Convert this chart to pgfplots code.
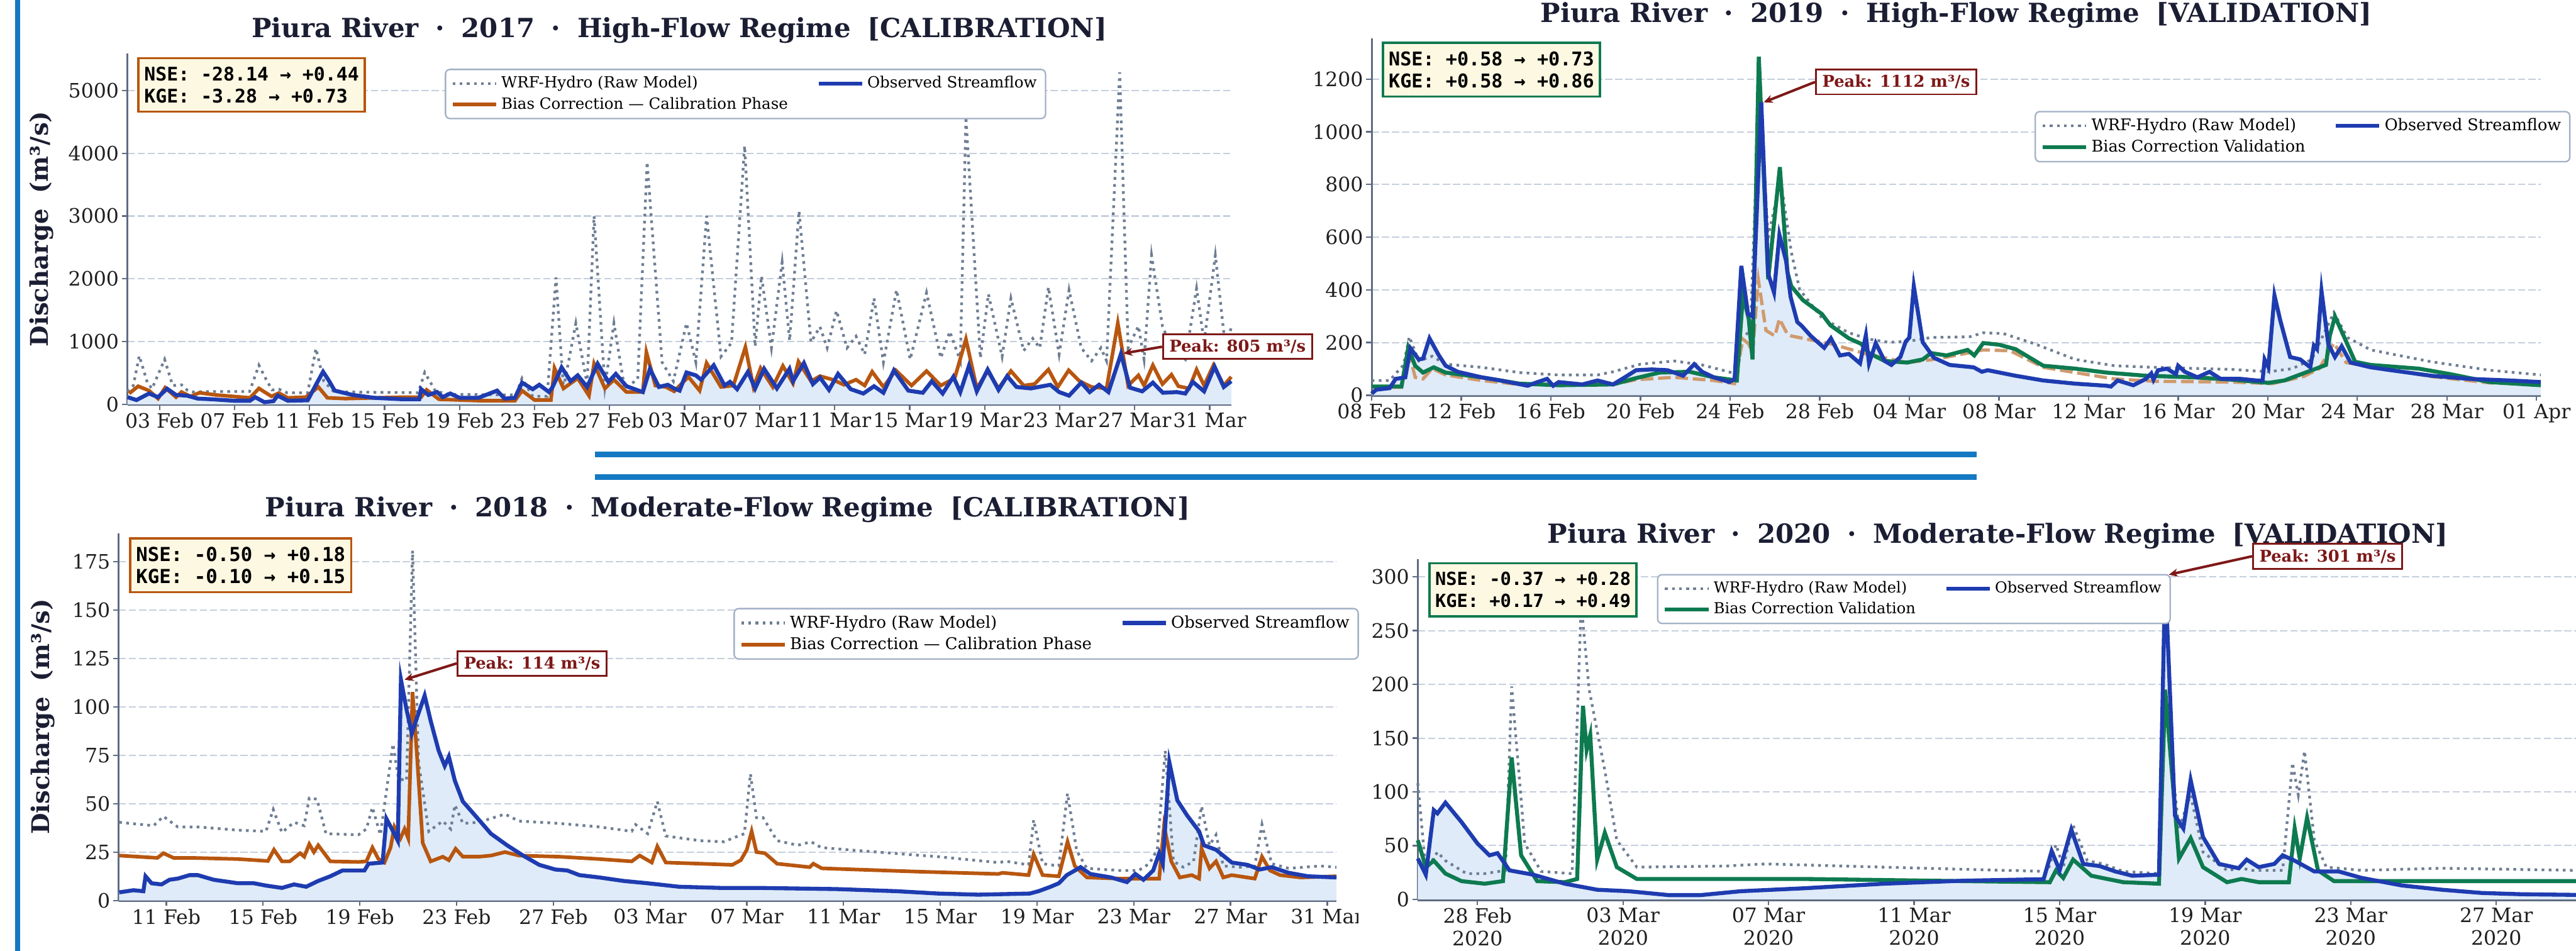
\documentclass[border=0pt]{standalone}
\usepackage{fontspec}
\setmainfont{DejaVu Serif}
\newfontfamily\monofont{DejaVu Sans Mono}
\usepackage{pgfplots}
\pgfplotsset{compat=1.18}
\usetikzlibrary{arrows.meta}
\definecolor{obsc}{HTML}{1E3CB0}
\definecolor{biasc}{HTML}{B8560F}
\definecolor{valc}{HTML}{0E7A50}
\definecolor{rawc}{HTML}{6E7E94}
\definecolor{tanc}{HTML}{D09A6E}
\definecolor{fillc}{HTML}{DFEBF8}
\definecolor{gridc}{HTML}{C6CFDC}
\definecolor{spinec}{HTML}{5E6C82}
\definecolor{boxfill}{HTML}{FDF8E2}
\definecolor{peakc}{HTML}{7E1818}
\definecolor{titlec}{HTML}{1B1E33}
\definecolor{barc}{HTML}{1479C2}
\definecolor{legbord}{HTML}{A3B1C6}
\newcommand{\dsp}{\hspace{0.636em}}
\newcommand{\tsep}{\dsp·\dsp}
\newcommand{\nsefont}[1]{\monofont\bfseries\fontsize{#1}{12.1}\selectfont}
\tikzset{
  rawstyle/.style={rawc, line width=1.5bp, dash pattern=on 1.5bp off 2.4bp},
  obsstyle/.style={obsc, line width=2.2bp},
  biasstyle/.style={biasc, line width=2bp},
  valstyle/.style={valc, line width=2.2bp},
  tanstyle/.style={tanc, line width=1.8bp, dash pattern=on 7bp off 2.6bp},
  nsebox/.style={draw=#1, fill=boxfill, line width=1.3bp, inner xsep=3.2bp, inner ysep=4.8bp, align=left, anchor=north west},
  peakbox/.style={draw=peakc, fill=white, line width=1bp, text=peakc, font=\bfseries\fontsize{9}{10}\selectfont, inner xsep=3.5bp, inner ysep=3bp, anchor=west},
  peakarrow/.style={draw=peakc, line width=1.4bp, -{Stealth[length=5bp,width=4.5bp]}},
}
\pgfplotsset{
  panel/.style={
    scale only axis, clip=false,
    axis x line*=bottom, axis y line*=left,
    x axis line style={-, draw=spinec, line width=1.8bp},
    y axis line style={-, draw=spinec, line width=1bp},
    tick align=outside, major tick length=3bp,
    major tick style={draw=spinec, line width=0.8bp},
    ymin=0, ymajorgrids,
    major grid style={draw=gridc, line width=0.7bp, dash pattern=on 4bp off 1.6bp},
    ticklabel style={font=\fontsize{11}{12.5}\selectfont, text=black!88},
    yticklabel style={inner sep=1.5bp},
    xticklabel style={inner sep=1.5bp},
    /pgf/number format/assume math mode=true,
    /pgf/number format/1000 sep={},
    scaled y ticks=false,
    title style={at={(0.5,1)}, anchor=base, yshift=2.9bp, font=\bfseries\fontsize{14.6}{16}\selectfont, text=titlec},
    ylabel style={anchor=center, font=\bfseries\fontsize{13.5}{15}\selectfont, text=titlec},
    legend columns=2, legend cell align=left,
    legend image code/.code={\draw[##1] (0bp,0bp) -- (24bp,0bp);},
    legend style={anchor=north west, draw=legbord, line width=0.8bp, rounded corners=2.5bp, fill=white, inner xsep=3bp, inner ysep=2bp, /tikz/every even column/.append style={column sep=14bp}, nodes={inner sep=1.8bp}},
  }
}
\begin{document}
\begin{tikzpicture}
\path[use as bounding box] (0,0) rectangle (1422bp,524.88bp);
\clip (0,0) rectangle (1422bp,524.88bp);
\fill[barc] (8.4bp,0) rectangle (11.28bp,524.88bp);
\fill[barc] (328.32bp,272.48bp) rectangle (1091.04bp,275.44bp);
\fill[barc] (328.32bp,260.05bp) rectangle (1091.04bp,263.01bp);

% ---------------- Panel 1: 2017 ----------------
\begin{axis}[panel, at={(70.32bp,301.68bp)}, anchor=south west,
  width=609.36bp, height=193.68bp,
  xmin=0.285, xmax=59.15, ymax=5590,
  ytick={0,1000,...,5000},
  xtick={2,6,...,58},
  xticklabels={03 Feb,07 Feb,11 Feb,15 Feb,19 Feb,23 Feb,27 Feb,03 Mar,07 Mar,11 Mar,15 Mar,19 Mar,23 Mar,27 Mar,31 Mar},
  title={Piura River\tsep 2017\tsep High-Flow Regime\dsp[CALIBRATION]},
  ylabel={Discharge\dsp(m³/s)},
  ylabel style={at={(axis description cs:-0.0776,0.5)}},
  legend style={at={(0.2875,0.9566)}, font=\fontsize{8.55}{10.5}\selectfont},
]
\addlegendimage{rawstyle}\addlegendentry{WRF-Hydro (Raw Model)}
\addlegendimage{obsstyle}\addlegendentry{Observed Streamflow}
\addlegendimage{biasstyle}\addlegendentry{Bias Correction — Calibration Phase}
\addplot[fill=fillc, draw=none, forget plot] coordinates {
(0.29,115)(0.77,69)(1.44,173)(1.92,115)(2.4,249)(2.88,150)(3.46,139)(4.04,92)(4.8,81)(5.96,58)(6.82,58)(7.1,115)(7.59,35)(8.07,51)(8.3,139)(8.84,58)(9.9,65)(10.4,346)(10.72,520)(11.0,393)(11.34,219)(12.3,150)(13.45,104)(15,81)(15.85,81)(15.95,242)(16.33,150)(16.8,196)(17.1,115)(17.5,173)(18,104)(19,104)(20,219)(20.4,92)(20.95,104)(21.33,346)(21.9,242)(22.25,312)(22.77,196)(22.96,277)(23.44,589)(23.92,369)(24.3,462)(24.8,277)(25.36,647)(25.94,358)(26.33,485)(26.9,289)(27.77,196)(28.15,566)(28.63,277)(29.1,312)(29.44,254)(29.73,219)(30.1,508)(30.6,462)(30.88,393)(31.55,623)(32.13,300)(32.42,358)(32.8,242)(33.38,520)(33.76,254)(34.24,566)(34.92,254)(35.59,566)(35.78,369)(36.36,658)(36.84,323)(37.22,427)(37.7,231)(38.18,485)(38.86,242)(39.53,173)(40.1,289)(40.6,185)(41.16,543)(41.93,219)(42.7,185)(43.18,369)(43.76,173)(44.33,439)(44.7,196)(45.16,612)(45.58,208)(46.16,554)(46.74,231)(47.2,450)(47.7,277)(48.46,254)(49.5,312)(49.97,196)(50.5,139)(51.15,346)(51.6,196)(52.1,312)(52.6,196)(53.27,805)(53.75,266)(54.4,208)(54.97,346)(55.5,185)(56.25,196)(56.7,173)(57.1,358)(57.7,208)(58.26,600)(58.75,277)(59.15,369)
} \closedcycle;
\addplot[rawstyle, forget plot] coordinates {
(0.29,200)(0.6,300)(0.92,773)(1.35,346)(1.6,250)(2.27,716)(2.7,300)(3.17,312)(3.5,220)(3.84,196)(4.5,205)(6.8,205)(7.3,623)(7.69,393)(8.0,230)(8.36,242)(8.8,185)(9.9,185)(10.34,889)(10.76,369)(11.3,200)(15.8,185)(16.14,508)(16.72,208)(17.5,160)(21.0,150)(21.33,416)(21.9,127)(22.67,127)(23.14,2021)(23.54,254)(24.2,1293)(24.8,323)(25.17,3001)(25.75,277)(26.23,1293)(26.8,254)(27.5,400)(28.0,3861)(28.8,670)(29.4,369)(30.1,1293)(30.6,670)(31.17,3001)(31.94,762)(32.5,981)(33.2,4117)(33.76,924)(34.1,2043)(34.63,900)(35.2,2264)(35.6,1016)(36.1,3080)(36.74,993)(37.22,1235)(37.6,900)(38.1,1492)(38.66,900)(39.14,1085)(39.6,797)(40.1,1690)(40.6,670)(41.3,1823)(42.03,716)(42.9,1778)(43.66,739)(44.14,1161)(44.7,693)(45.0,4581)(45.77,739)(46.2,1756)(46.93,762)(47.4,1690)(48.08,854)(48.56,1050)(48.94,900)(49.4,1867)(49.97,797)(50.5,1823)(51.15,900)(51.7,693)(52.2,900)(52.5,693)(53.2,5287)(53.65,900)(54.2,1247)(54.5,716)(54.9,2374)(55.48,1247)(55.96,900)(56.7,716)(57.3,1845)(57.7,993)(58.3,2374)(58.84,900)(59.15,1227)
};
\addplot[biasstyle, forget plot] coordinates {
(0.38,173)(0.86,289)(1.44,219)(1.92,92)(2.3,266)(2.88,115)(3.17,196)(3.65,127)(4.13,185)(5.0,150)(6.82,104)(7.3,254)(7.97,127)(8.36,180)(8.84,104)(9.8,115)(10.47,277)(10.95,104)(11.9,92)(15,115)(15.95,115)(16.24,231)(16.9,81)(19.2,58)(20.95,58)(21.33,219)(22.0,69)(22.87,69)(23.06,577)(23.54,254)(24.3,416)(24.9,139)(25.17,647)(25.75,254)(26.23,393)(26.9,196)(27.77,196)(27.96,831)(28.44,300)(29.0,277)(29.44,208)(30.2,439)(30.8,219)(31.17,658)(31.94,277)(32.6,300)(33.24,912)(33.67,277)(34.05,577)(34.7,277)(35.24,612)(35.78,335)(36.07,681)(36.74,369)(37.22,450)(37.9,393)(38.5,312)(39.14,393)(39.6,300)(40.0,520)(40.6,277)(41.26,543)(42.1,300)(42.9,531)(43.66,300)(44.4,416)(45.0,1039)(45.58,254)(46.16,531)(46.74,254)(47.4,531)(48.08,300)(48.66,323)(49.4,554)(49.9,277)(50.48,543)(51.06,369)(51.7,277)(52.5,254)(53.1,1293)(53.65,300)(54.2,462)(54.5,300)(54.97,623)(55.48,323)(55.96,473)(56.33,289)(56.9,254)(57.3,554)(57.7,300)(58.2,623)(58.75,300)(59.15,439)
};
\addplot[obsstyle, forget plot] coordinates {
(0.29,115)(0.77,69)(1.44,173)(1.92,115)(2.4,249)(2.88,150)(3.46,139)(4.04,92)(4.8,81)(5.96,58)(6.82,58)(7.1,115)(7.59,35)(8.07,51)(8.3,139)(8.84,58)(9.9,65)(10.4,346)(10.72,520)(11.0,393)(11.34,219)(12.3,150)(13.45,104)(15,81)(15.85,81)(15.95,242)(16.33,150)(16.8,196)(17.1,115)(17.5,173)(18,104)(19,104)(20,219)(20.4,92)(20.95,104)(21.33,346)(21.9,242)(22.25,312)(22.77,196)(22.96,277)(23.44,589)(23.92,369)(24.3,462)(24.8,277)(25.36,647)(25.94,358)(26.33,485)(26.9,289)(27.77,196)(28.15,566)(28.63,277)(29.1,312)(29.44,254)(29.73,219)(30.1,508)(30.6,462)(30.88,393)(31.55,623)(32.13,300)(32.42,358)(32.8,242)(33.38,520)(33.76,254)(34.24,566)(34.92,254)(35.59,566)(35.78,369)(36.36,658)(36.84,323)(37.22,427)(37.7,231)(38.18,485)(38.86,242)(39.53,173)(40.1,289)(40.6,185)(41.16,543)(41.93,219)(42.7,185)(43.18,369)(43.76,173)(44.33,439)(44.7,196)(45.16,612)(45.58,208)(46.16,554)(46.74,231)(47.2,450)(47.7,277)(48.46,254)(49.5,312)(49.97,196)(50.5,139)(51.15,346)(51.6,196)(52.1,312)(52.6,196)(53.27,805)(53.75,266)(54.4,208)(54.97,346)(55.5,185)(56.25,196)(56.7,173)(57.1,358)(57.7,208)(58.26,600)(58.75,277)(59.15,369)
};
\node[nsebox=biasc, font=\nsefont{10.4}] at (axis description cs:0.009,0.99) {NSE: -28.14 → +0.44\\KGE: -3.28 → +0.73};
\node[peakbox] (pk1) at (axis cs:55.46,918) {Peak: 805 m³/s};
\draw[peakarrow] (pk1.west) -- (axis cs:53.4,812);
\end{axis}

% ---------------- Panel 2: 2019 ----------------
\begin{axis}[panel, at={(757.2bp,306.72bp)}, anchor=south west,
  width=645.36bp, height=197.04bp,
  xmin=0, xmax=52.19, ymax=1355,
  ytick={0,200,...,1200},
  xtick={0,4,...,52},
  xticklabels={08 Feb,12 Feb,16 Feb,20 Feb,24 Feb,28 Feb,04 Mar,08 Mar,12 Mar,16 Mar,20 Mar,24 Mar,28 Mar,01 Apr},
  title={Piura River\tsep 2019\tsep High-Flow Regime\dsp[VALIDATION]},
  legend style={at={(0.567,0.7966)}, font=\fontsize{8.9}{10.5}\selectfont},
]
\addlegendimage{rawstyle}\addlegendentry{WRF-Hydro (Raw Model)}
\addlegendimage{obsstyle}\addlegendentry{Observed Streamflow}
\addlegendimage{valstyle}\addlegendentry{Bias Correction Validation}
\addplot[fill=fillc, draw=none, forget plot] coordinates {
(0,6)(0.2,21)(0.8,27)(1.07,62)(1.5,68)(1.73,178)(2.1,136)(2.29,139)(2.58,216)(2.98,154)(3.3,112)(3.84,89)(4.9,68)(5.75,56)(6.96,36)(7.4,50)(7.83,62)(8.1,36)(8.35,50)(9.4,41)(10.08,56)(10.77,41)(11.3,68)(11.8,95)(12.5,98)(13.2,95)(13.9,74)(14.4,118)(14.75,89)(15.27,68)(15.97,50)(16.2,62)(16.5,491)(16.8,308)(17.0,299)(17.39,1112)(17.7,461)(17.96,390)(18.2,609)(18.5,509)(18.7,373)(19.0,278)(19.2,263)(19.6,225)(20.2,180)(20.5,216)(20.9,151)(21.3,157)(21.8,121)(22.06,228)(22.2,121)(22.5,198)(22.9,130)(23.2,115)(23.6,145)(23.84,204)(24.0,219)(24.2,414)(24.6,201)(25.1,142)(25.8,115)(26.87,106)(27.24,89)(27.5,95)(28.74,74)(29.98,56)(31.4,44)(32.8,36)(33.0,33)(33.3,56)(34.0,38)(34.56,62)(34.8,83)(34.9,59)(35.1,95)(35.5,101)(35.9,80)(36.0,112)(36.3,89)(36.86,68)(37.4,89)(37.9,62)(38.8,62)(39.5,56)(39.77,56)(39.86,136)(40.03,106)(40.3,379)(40.56,284)(41.0,145)(41.45,136)(41.9,106)(42.06,189)(42.2,175)(42.4,396)(42.7,195)(43.0,145)(43.3,186)(43.7,124)(44.6,106)(45.5,95)(47.3,74)(49.0,62)(50.8,56)(52.19,50)
} \closedcycle;
\addplot[rawstyle, forget plot] coordinates {
(0,56)(0.8,56)(1.42,115)(1.68,222)(2.1,130)(2.7,148)(3.3,118)(4.9,106)(6.6,86)(8.35,77)(10.08,77)(10.77,89)(12.0,118)(13.5,130)(14.75,115)(15.8,92)(16.3,80)(16.57,213)(16.9,250)(17.3,1150)(17.7,600)(18.25,820)(18.73,544)(19.1,402)(20.1,293)(21.3,237)(22.2,213)(23.07,201)(23.9,204)(24.97,219)(26.7,222)(27.3,237)(28.2,234)(29.6,195)(31.4,136)(33.15,112)(34.9,106)(38.4,98)(40.03,89)(41.1,101)(41.97,136)(42.95,314)(43.56,219)(44.6,172)(47.3,127)(49.9,95)(52.19,77)
};
\addplot[tanstyle, forget plot] coordinates {
(0,30)(1.33,30)(1.63,175)(1.94,68)(2.29,62)(2.7,101)(3.3,77)(4.9,56)(6.6,41)(10.77,41)(11.8,59)(13.5,68)(15.27,56)(16.2,44)(16.57,213)(16.83,195)(17.0,160)(17.26,438)(17.6,246)(18.0,225)(18.2,290)(18.56,231)(18.73,225)(19.6,210)(20.5,195)(22.2,154)(23.9,124)(25.0,135)(26.0,150)(27.3,172)(28.5,169)(29.98,106)(31.4,86)(33.15,62)(34.9,53)(38.4,50)(40.2,44)(41.6,71)(42.3,101)(42.95,198)(43.5,124)(44.6,109)(47.3,71)(49.9,47)(52.19,41)
};
\addplot[valstyle, forget plot] coordinates {
(0,33)(1.33,33)(1.63,180)(1.94,112)(2.29,86)(2.77,106)(3.3,86)(4.9,68)(6.6,44)(8.35,38)(10.77,41)(11.8,65)(12.85,86)(14.2,89)(15.27,68)(16.3,56)(16.57,379)(16.83,290)(17.0,136)(17.28,1285)(17.7,440)(18.22,866)(18.56,467)(18.73,414)(19.25,361)(20.1,308)(20.47,266)(21.3,216)(21.85,195)(22.2,160)(22.9,130)(23.9,124)(24.6,136)(24.97,160)(25.66,151)(26.6,172)(26.9,151)(27.3,198)(28.0,192)(28.74,175)(29.98,112)(31.4,101)(32.8,86)(34.56,74)(36.7,68)(38.4,59)(40.03,47)(40.74,56)(41.97,95)(42.6,115)(42.77,225)(43.0,299)(43.5,204)(43.9,127)(44.6,115)(46.74,101)(48.15,80)(49.9,50)(52.19,38)
};
\addplot[obsstyle, forget plot] coordinates {
(0,6)(0.2,21)(0.8,27)(1.07,62)(1.5,68)(1.73,178)(2.1,136)(2.29,139)(2.58,216)(2.98,154)(3.3,112)(3.84,89)(4.9,68)(5.75,56)(6.96,36)(7.4,50)(7.83,62)(8.1,36)(8.35,50)(9.4,41)(10.08,56)(10.77,41)(11.3,68)(11.8,95)(12.5,98)(13.2,95)(13.9,74)(14.4,118)(14.75,89)(15.27,68)(15.97,50)(16.2,62)(16.5,491)(16.8,308)(17.0,299)(17.39,1112)(17.7,461)(17.96,390)(18.2,609)(18.5,509)(18.7,373)(19.0,278)(19.2,263)(19.6,225)(20.2,180)(20.5,216)(20.9,151)(21.3,157)(21.8,121)(22.06,228)(22.2,121)(22.5,198)(22.9,130)(23.2,115)(23.6,145)(23.84,204)(24.0,219)(24.2,414)(24.6,201)(25.1,142)(25.8,115)(26.87,106)(27.24,89)(27.5,95)(28.74,74)(29.98,56)(31.4,44)(32.8,36)(33.0,33)(33.3,56)(34.0,38)(34.56,62)(34.8,83)(34.9,59)(35.1,95)(35.5,101)(35.9,80)(36.0,112)(36.3,89)(36.86,68)(37.4,89)(37.9,62)(38.8,62)(39.5,56)(39.77,56)(39.86,136)(40.03,106)(40.3,379)(40.56,284)(41.0,145)(41.45,136)(41.9,106)(42.06,189)(42.2,175)(42.4,396)(42.7,195)(43.0,145)(43.3,186)(43.7,124)(44.6,106)(45.5,95)(47.3,74)(49.0,62)(50.8,56)(52.19,50)
};
\node[nsebox=valc, font=\nsefont{10.5}] at (axis description cs:0.0086,0.99) {NSE: +0.58 → +0.73\\KGE: +0.58 → +0.86};
\node[peakbox] (pk2) at (axis cs:19.79,1189) {Peak: 1112 m³/s};
\draw[peakarrow] (pk2.west) -- (axis cs:17.5,1112);
\end{axis}

% ---------------- Panel 3: 2018 ----------------
\begin{axis}[panel, at={(65.52bp,27.84bp)}, anchor=south west,
  width=672.24bp, height=202.8bp,
  xmin=0.03, xmax=50.38, ymax=189.7,
  ytick={0,25,...,175},
  xtick={2,6,...,50},
  xticklabels={11 Feb,15 Feb,19 Feb,23 Feb,27 Feb,03 Mar,07 Mar,11 Mar,15 Mar,19 Mar,23 Mar,27 Mar,31 Mar},
  title={Piura River\tsep 2018\tsep Moderate-Flow Regime\dsp[CALIBRATION]},
  ylabel={Discharge\dsp(m³/s)},
  ylabel style={at={(axis description cs:-0.0621,0.5)}},
  legend style={at={(0.5048,0.7964)}, font=\fontsize{9}{11}\selectfont},
]
\addlegendimage{rawstyle}\addlegendentry{WRF-Hydro (Raw Model)}
\addlegendimage{obsstyle}\addlegendentry{Observed Streamflow}
\addlegendimage{biasstyle}\addlegendentry{Bias Correction — Calibration Phase}
\addplot[fill=fillc, draw=none, forget plot] coordinates {
(0.05,4.2)(0.64,5.3)(1.05,4.8)(1.14,12.5)(1.39,8.9)(1.8,8.3)(2.13,10.7)(2.47,11.3)(2.96,13.1)(3.3,13.1)(3.96,10.7)(4.96,8.9)(5.62,8.9)(6.12,7.7)(6.78,6.5)(7.28,8.3)(7.78,7.1)(8.28,10.1)(8.78,12.5)(9.28,15.5)(10.19,15.5)(10.36,19.0)(10.94,19.6)(11.1,42.2)(11.35,36.3)(11.57,30.9)(11.7,114)(11.93,98.7)(12.15,86.2)(12.35,93.9)(12.68,105.8)(12.93,92.7)(13.26,77.3)(13.51,69.5)(13.68,74.3)(13.93,61.8)(14.26,51.1)(14.76,44.0)(15.42,34.5)(16.09,28.5)(16.75,23.2)(17.42,18.4)(18.08,16.0)(18.58,15.5)(19.08,13.1)(19.9,11.9)(20.9,10.1)(21.9,8.9)(23.2,7.1)(24.9,6.5)(26.4,6.5)(29.7,5.9)(32.2,4.8)(33.9,3.6)(35.57,3.0)(37.7,3.6)(38.06,4.8)(38.56,7.1)(38.9,8.9)(39.23,13.1)(39.8,17.2)(40.2,13.7)(41.06,11.9)(41.72,9.5)(42.06,13.7)(42.4,10.7)(42.8,15.5)(43.05,24.4)(43.2,19.0)(43.47,71.3)(43.8,51.7)(44.2,44.0)(44.7,35.7)(44.9,28.5)(45.4,26.2)(46.05,19.6)(46.7,18.4)(47.2,16.0)(47.7,17.2)(48.4,14.3)(49.2,12.5)(50.38,11.9)
} \closedcycle;
\addplot[rawstyle, forget plot] coordinates {
(0.05,40.4)(1.47,38.6)(1.88,43.4)(2.47,38.0)(3.3,38.0)(4.96,36.3)(6.12,35.7)(6.42,47.0)(6.78,35.1)(7.28,40.4)(7.7,38.6)(7.91,52.9)(8.23,52.3)(8.6,34.5)(9.94,33.9)(10.27,36.9)(10.52,48.1)(10.85,33.9)(11.37,80.8)(11.6,63.0)(11.93,61.8)(12.18,180.7)(12.43,71.3)(12.85,35.7)(13.43,41.0)(13.76,36.9)(13.93,49.3)(14.26,39.8)(14.92,40.4)(16.0,44.6)(16.58,41.0)(18.25,39.8)(19.9,38.0)(21.24,35.7)(21.4,39.2)(21.9,34.5)(22.3,51.1)(22.65,33.3)(24.06,30.9)(25.06,30.3)(25.4,32.1)(25.9,34.5)(26.15,65.4)(26.4,42.8)(26.67,42.8)(27.25,30.9)(28.1,28.5)(28.66,30.3)(29.08,27.3)(31.4,25.0)(33.9,22.6)(36.4,19.6)(36.73,20.2)(37.65,18.4)(37.86,41.6)(38.23,19.0)(38.9,17.8)(39.26,55.3)(39.64,25.6)(40.06,16.6)(41.4,15.5)(42.2,15.5)(42.64,19.0)(42.97,26.2)(43.3,77.3)(43.64,20.2)(44.05,17.2)(44.47,20.2)(44.8,48.7)(45.13,28.5)(45.4,33.9)(45.7,17.8)(46.4,17.2)(47.0,17.8)(47.3,39.2)(47.7,19.0)(48.4,16.6)(49.7,17.8)(50.38,17.2)
};
\addplot[biasstyle, forget plot] coordinates {
(0.05,23.2)(1.63,22.0)(1.88,24.4)(2.3,22.0)(3.05,22.0)(4.96,21.4)(6.2,20.4)(6.45,26.2)(6.78,20.2)(7.1,20.2)(7.53,24.4)(7.7,22.6)(7.91,29.1)(8.1,25.0)(8.28,28.5)(8.78,20.2)(9.94,19.9)(10.27,20.2)(10.52,27.3)(10.77,21.4)(11.02,19.6)(11.27,27.3)(11.43,38.0)(11.68,32.1)(11.85,36.9)(12.0,32.1)(12.18,107.6)(12.35,77.3)(12.6,29.7)(12.93,20.2)(13.43,22.6)(13.68,20.8)(13.96,26.7)(14.26,22.6)(14.92,22.6)(15.42,23.2)(16.0,25.0)(16.58,23.2)(18.25,22.6)(19.9,21.4)(21.24,20.2)(21.57,23.2)(22.07,19.6)(22.3,27.9)(22.65,19.6)(24.06,19.0)(25.4,18.4)(25.75,20.8)(26.0,26.2)(26.2,35.7)(26.4,25.0)(26.75,24.4)(27.25,19.0)(28.6,17.2)(28.75,19.0)(29.1,16.6)(33.07,14.9)(36.4,13.7)(36.57,14.3)(37.65,13.1)(37.86,23.8)(38.23,13.1)(38.9,12.5)(39.26,30.3)(39.56,17.8)(40.06,11.9)(41.4,11.3)(43.05,11.3)(43.25,38.6)(43.55,20.2)(43.9,11.9)(44.4,13.1)(44.7,11.3)(44.8,26.7)(45.13,16.6)(45.4,20.2)(45.7,11.9)(46.05,13.1)(47.0,11.3)(47.3,22.6)(47.63,15.5)(48.05,13.1)(48.9,11.9)(50.38,12.5)
};
\addplot[obsstyle, forget plot] coordinates {
(0.05,4.2)(0.64,5.3)(1.05,4.8)(1.14,12.5)(1.39,8.9)(1.8,8.3)(2.13,10.7)(2.47,11.3)(2.96,13.1)(3.3,13.1)(3.96,10.7)(4.96,8.9)(5.62,8.9)(6.12,7.7)(6.78,6.5)(7.28,8.3)(7.78,7.1)(8.28,10.1)(8.78,12.5)(9.28,15.5)(10.19,15.5)(10.36,19.0)(10.94,19.6)(11.1,42.2)(11.35,36.3)(11.57,30.9)(11.7,114)(11.93,98.7)(12.15,86.2)(12.35,93.9)(12.68,105.8)(12.93,92.7)(13.26,77.3)(13.51,69.5)(13.68,74.3)(13.93,61.8)(14.26,51.1)(14.76,44.0)(15.42,34.5)(16.09,28.5)(16.75,23.2)(17.42,18.4)(18.08,16.0)(18.58,15.5)(19.08,13.1)(19.9,11.9)(20.9,10.1)(21.9,8.9)(23.2,7.1)(24.9,6.5)(26.4,6.5)(29.7,5.9)(32.2,4.8)(33.9,3.6)(35.57,3.0)(37.7,3.6)(38.06,4.8)(38.56,7.1)(38.9,8.9)(39.23,13.1)(39.8,17.2)(40.2,13.7)(41.06,11.9)(41.72,9.5)(42.06,13.7)(42.4,10.7)(42.8,15.5)(43.05,24.4)(43.2,19.0)(43.47,71.3)(43.8,51.7)(44.2,44.0)(44.7,35.7)(44.9,28.5)(45.4,26.2)(46.05,19.6)(46.7,18.4)(47.2,16.0)(47.7,17.2)(48.4,14.3)(49.2,12.5)(50.38,11.9)
};
\node[nsebox=biasc, font=\nsefont{10.7}] at (axis description cs:0.0086,0.989) {NSE: -0.50 → +0.18\\KGE: -0.10 → +0.15};
\node[peakbox] (pk3) at (axis cs:14.0,122.4) {Peak: 114 m³/s};
\draw[peakarrow] (pk3.west) -- (axis cs:11.85,114);
\end{axis}

\fill[white] (750bp,0) rectangle (779bp,26bp);

% ---------------- Panel 4: 2020 ----------------
\begin{axis}[panel, at={(782.64bp,28.44bp)}, anchor=south west,
  width=640.32bp, height=187.85bp,
  xmin=0.36, xmax=32.24, ymax=316.5,
  ytick={0,50,...,300},
  xtick={2,6,...,30},
  xticklabels={{28 Feb\\2020},{03 Mar\\2020},{07 Mar\\2020},{11 Mar\\2020},{15 Mar\\2020},{19 Mar\\2020},{23 Mar\\2020},{27 Mar\\2020}},
  xticklabel style={align=center},
  title={Piura River\tsep 2020\tsep Moderate-Flow Regime\dsp[VALIDATION]},
  legend style={at={(0.2061,0.9563)}, font=\fontsize{8.4}{10}\selectfont},
]
\addlegendimage{rawstyle}\addlegendentry{WRF-Hydro (Raw Model)}
\addlegendimage{obsstyle}\addlegendentry{Observed Streamflow}
\addlegendimage{valstyle}\addlegendentry{Bias Correction Validation}
\addplot[fill=fillc, draw=none, forget plot] coordinates {
(0.36,38)(0.58,23)(0.8,83)(0.9,80)(1.12,90)(1.56,72)(2.0,52)(2.33,41)(2.55,43)(2.88,27)(3.53,23)(4.4,14.6)(5.29,9)(6.16,7.6)(7.26,4)(8.13,4)(9.23,7.6)(11.0,10.4)(13.17,14.6)(15.37,17.4)(17.56,18.8)(17.78,45)(18.0,27)(18.32,65)(18.65,33)(19.1,31)(19.53,26)(20.0,22)(20.73,23)(20.9,301)(21.17,78)(21.4,66)(21.6,111)(21.94,58)(22.38,33)(22.92,29)(23.14,37)(23.47,30)(23.9,33)(24.13,41)(24.46,36)(25.0,26)(25.67,26)(26.3,20)(27.4,13)(28.5,9)(29.6,6)(30.7,4.8)(32.2,4.2)
} \closedcycle;
\addplot[rawstyle, forget plot] coordinates {
(0.36,108)(0.58,27)(0.9,44)(1.12,36)(1.7,24)(2.2,24)(2.77,27)(2.94,198)(3.3,52)(3.75,26)(4.6,24)(4.85,275)(5.07,195)(5.5,120)(5.83,55)(6.38,30)(8.8,31)(9.9,33)(13.17,30)(15.37,28)(17.67,26)(17.9,51)(18.1,30)(18.37,69)(18.76,36)(19.2,33)(19.75,26)(20.73,24)(20.9,180)(21.28,66)(21.6,97)(21.94,44)(22.6,27)(23.0,29)(23.3,27)(24.13,27)(24.4,127)(24.56,97)(24.73,138)(25.0,55)(25.33,30)(26.3,27)(28.5,29)(32.2,27)
};
\addplot[valstyle, forget plot] coordinates {
(0.36,55)(0.58,30)(0.8,36)(1.12,24)(1.56,17)(2.2,14.6)(2.7,17)(2.94,132)(3.2,41)(3.64,17)(4.4,16)(4.74,19)(4.9,180)(5.0,139)(5.1,153)(5.29,37)(5.5,62)(5.83,30)(6.38,19)(8.8,19)(11.0,19)(15.37,17)(17.73,16)(17.9,27)(18.1,20)(18.37,37)(18.87,22)(19.75,16)(20.73,14.6)(20.9,195)(21.28,38)(21.6,57)(21.94,30)(22.6,16)(23.0,19)(23.47,16)(24.3,16)(24.46,66)(24.6,38)(24.8,76)(25.1,27)(25.54,17)(26.3,17)(28.5,17)(32.2,17)
};
\addplot[obsstyle, forget plot] coordinates {
(0.36,38)(0.58,23)(0.8,83)(0.9,80)(1.12,90)(1.56,72)(2.0,52)(2.33,41)(2.55,43)(2.88,27)(3.53,23)(4.4,14.6)(5.29,9)(6.16,7.6)(7.26,4)(8.13,4)(9.23,7.6)(11.0,10.4)(13.17,14.6)(15.37,17.4)(17.56,18.8)(17.78,45)(18.0,27)(18.32,65)(18.65,33)(19.1,31)(19.53,26)(20.0,22)(20.73,23)(20.9,301)(21.17,78)(21.4,66)(21.6,111)(21.94,58)(22.38,33)(22.92,29)(23.14,37)(23.47,30)(23.9,33)(24.13,41)(24.46,36)(25.0,26)(25.67,26)(26.3,20)(27.4,13)(28.5,9)(29.6,6)(30.7,4.8)(32.2,4.2)
};
\node[nsebox=valc, font=\nsefont{10.0}] at (axis description cs:0.009,0.991) {NSE: -0.37 → +0.28\\KGE: +0.17 → +0.49};
\node[peakbox] (pk4) at (axis cs:23.29,319.1) {Peak: 301 m³/s};
\draw[peakarrow] (pk4.west) -- (axis cs:21.0,302);
\end{axis}
\end{tikzpicture}
\end{document}
